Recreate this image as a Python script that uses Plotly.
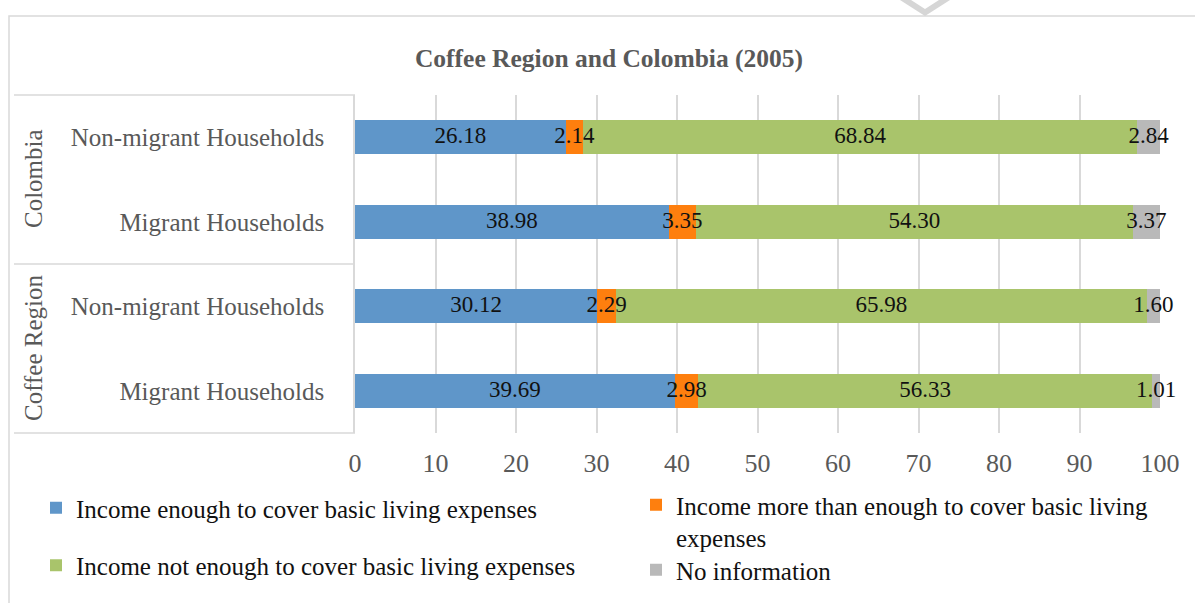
import plotly.graph_objects as go

# Household groups, top to bottom
groups = ["Colombia", "Colombia", "Coffee Region", "Coffee Region"]
households = ["Non-migrant Households", "Migrant Households",
              "Non-migrant Households", "Migrant Households"]

series_names = [
    "Income enough to cover basic living expenses",
    "Income more than enough to cover basic living<br>expenses",
    "Income not enough to cover basic living expenses",
    "No information",
]
enough = [26.18, 38.98, 30.12, 39.69]
more_than_enough = [2.14, 3.35, 2.29, 2.98]
not_enough = [68.84, 54.30, 65.98, 56.33]
no_info = [2.84, 3.37, 1.60, 1.01]

x_ticks = [0, 10, 20, 30, 40, 50, 60, 70, 80, 90, 100]

colors = ["#5f96c9", "#fe7f0e", "#a9c46b", "#b9b9b9"]
legend_ids = ["legend", "legend2", "legend", "legend3"]

FONT = "Liberation Serif"
GREY_TXT = "#595959"
LINE = "#d9d9d9"

W, H = 1195, 603
ML, MR, MT, MB = 355, 35, 95, 170
PW, PH = W - ML - MR, H - MT - MB


def px_x(p):
    return (p - ML) / PW


def px_y(p):
    return (H - MB - p) / PH


cat_keys = [f"{g}|{h}" for g, h in zip(groups, households)]
all_series = [enough, more_than_enough, not_enough, no_info]

fig = go.Figure()
for i, (name, vals, col) in enumerate(zip(series_names, all_series, colors)):
    fig.add_trace(go.Bar(
        y=cat_keys, x=vals, name=name, orientation="h",
        marker=dict(color=col, line=dict(width=0)),
        legend=legend_ids[i], legendgroup=f"g{i}",
    ))

# value labels centred on each stacked segment
label_x, label_y, label_txt = [], [], []
running = [0.0] * len(cat_keys)
for vals in all_series:
    for j, v in enumerate(vals):
        label_x.append(running[j] + v / 2)
        label_y.append(cat_keys[j])
        label_txt.append(f"{v:.2f}")
        running[j] += v
fig.add_trace(go.Scatter(
    x=label_x, y=label_y, text=label_txt, mode="text",
    textposition="middle center", showlegend=False, hoverinfo="skip",
    textfont=dict(family=FONT, size=23, color="#111111"), cliponaxis=False,
))

shapes = []
# outer chart frame
shapes.append(dict(type="rect", xref="paper", yref="paper",
                   x0=px_x(9), x1=px_x(1300), y0=px_y(16), y1=px_y(700),
                   line=dict(color=LINE, width=1.5), fillcolor="rgba(0,0,0,0)",
                   layer="below"))
# category table rules
for yy in (95, 264, 433):
    shapes.append(dict(type="line", xref="paper", yref="paper",
                       x0=px_x(14), x1=px_x(355), y0=px_y(yy), y1=px_y(yy),
                       line=dict(color=LINE, width=1.5)))
# watermark chevron at the top edge
shapes.append(dict(type="path", xref="paper", yref="paper",
                   path=(f"M {px_x(900)},{px_y(0)} L {px_x(911)},{px_y(0)} "
                         f"L {px_x(925)},{px_y(9)} L {px_x(939)},{px_y(0)} "
                         f"L {px_x(950)},{px_y(0)} L {px_x(925)},{px_y(16)} Z"),
                   fillcolor="#d6d6d6", line=dict(width=0)))

annotations = []
for label, yy in (("Colombia", 179), ("Coffee Region", 348)):
    annotations.append(dict(text=label, xref="paper", yref="paper",
                            x=px_x(33), y=px_y(yy), showarrow=False,
                            textangle=-90, xanchor="center", yanchor="middle",
                            font=dict(family=FONT, size=25, color=GREY_TXT)))

legend_common = dict(orientation="v", xanchor="left", yanchor="top",
                     traceorder="grouped", valign="top", tracegroupgap=22,
                     font=dict(family=FONT, size=25, color="#111111"),
                     bgcolor="rgba(0,0,0,0)")

fig.update_layout(
    width=W, height=H,
    margin=dict(l=ML, r=MR, t=MT, b=MB, pad=0, autoexpand=False),
    paper_bgcolor="white", plot_bgcolor="white",
    barmode="stack", bargap=0.6,
    title=dict(text="<b>Coffee Region and Colombia (2005)</b>",
               x=609 / W, xanchor="center",
               y=1 - 58 / H, yanchor="middle",
               font=dict(family=FONT, size=25.5, color=GREY_TXT)),
    xaxis=dict(range=[0, 100], tickvals=x_ticks, showgrid=True,
               gridcolor=LINE, gridwidth=1.5, zeroline=False, showline=False,
               ticks="", ticklabelstandoff=12,
               tickfont=dict(family=FONT, size=26, color=GREY_TXT)),
    yaxis=dict(categoryorder="array", categoryarray=cat_keys,
               autorange="reversed", tickvals=cat_keys, ticktext=households,
               showgrid=False, showline=True, linecolor=LINE, linewidth=1.5,
               ticks="", ticklabelstandoff=24,
               tickfont=dict(family=FONT, size=25, color=GREY_TXT)),
    legend=dict(x=px_x(36), y=px_y(485), **legend_common),
    legend2=dict(x=px_x(636), y=px_y(482), **legend_common),
    legend3=dict(x=px_x(636), y=px_y(547), **legend_common),
    shapes=shapes, annotations=annotations,
)

fig.write_html("out.html")
